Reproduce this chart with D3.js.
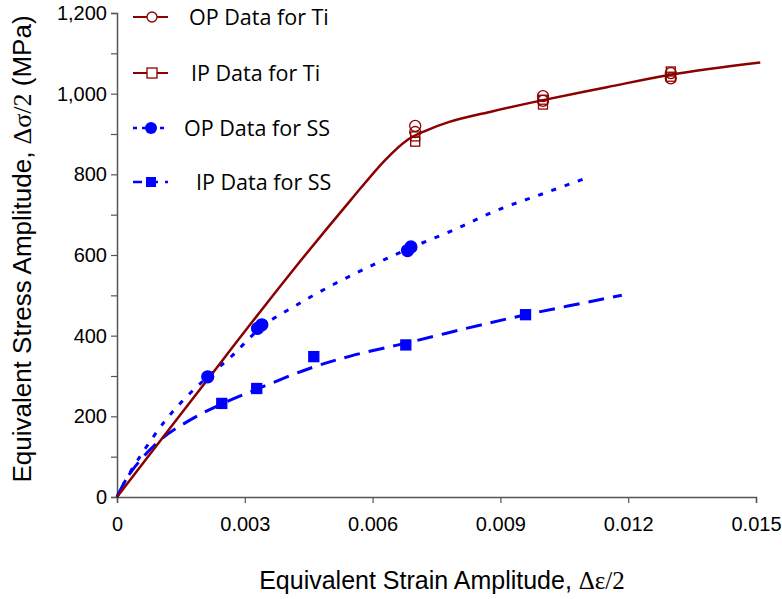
<!DOCTYPE html>
<html>
<head>
<meta charset="utf-8">
<script src="https://cdn.jsdelivr.net/npm/d3@7"></script>
<style>
body { margin: 0; background: #fff; }
</style>
</head>
<body>
<div id="chart"></div>
<script>
// curves
var tiCurve = [[0,0],[0.002,274],[0.004,545],[0.0055,738],[0.0063,836],[0.0068,884],[0.0072,906],[0.0078,930],
  [0.0088,956],[0.010,984],[0.0115,1016],[0.013,1047],[0.0151,1077]];
var ssOpCurve = [[0,0],[0.0003,60],[0.0011,185],[0.0016,245],[0.00213,298],[0.0027,350],[0.0034,422],[0.0042,475],
  [0.0051,528],[0.006,575],[0.0069,618],[0.0079,662],[0.0089,710],[0.010,752],[0.0111,794]];
var ssIpCurve = [[0,0],[0.0003,58],[0.001,140],[0.0017,190],[0.0024,228],[0.0033,268],[0.0045,318],[0.0055,350],
  [0.0068,382],[0.0082,418],[0.0096,452],[0.01185,500]];

// measured points
var tiOp = [[0.007,920],[0.007,905],[0.010,994],[0.010,982],[0.013,1051],[0.013,1038]];
var tiIp = [[0.007,894],[0.007,881],[0.010,985],[0.010,973],[0.013,1055],[0.013,1042]];
var ssOp = [[0.00213,298],[0.0033,418],[0.0034,427],[0.00682,611],[0.0069,620]];
var ssIp = [[0.00246,232],[0.00328,269],[0.00462,348],[0.00678,377],[0.00959,452]];

var xTicks = [0, 0.003, 0.006, 0.009, 0.012, 0.015];
var yTicks = [0, 200, 400, 600, 800, 1000, 1200];
var yMinor = [100, 300, 500, 700, 900, 1100];

var legendNames = ["OP Data for Ti", "IP Data for Ti", "OP Data for SS", "IP Data for SS"];

var width = 782, height = 599;
var tiColor = "#8b0000", ssColor = "#0000ff";
var axisFont = "Liberation Sans, Arial, sans-serif";

var svg = d3.select("#chart").append("svg")
  .attr("width", width).attr("height", height);

var x = d3.scaleLinear().domain([0, 0.015]).range([117, 756]);
var y = d3.scaleLinear().domain([0, 1200]).range([497, 13]);

// axes
svg.append("g")
  .attr("transform", "translate(0,497)")
  .call(d3.axisBottom(x).tickValues(xTicks).tickSize(6).tickPadding(14)
    .tickFormat(function(d) { return d === 0 ? "0" : d3.format(".3f")(d); }));
svg.append("g")
  .attr("transform", "translate(117,0)")
  .call(d3.axisLeft(y).tickValues(yTicks).tickSize(6).tickPadding(4).tickFormat(d3.format(",")));
svg.append("g")
  .attr("transform", "translate(117,0)")
  .call(d3.axisLeft(y).tickValues(yMinor).tickSize(6).tickFormat(""))
  .select(".domain").remove();

svg.selectAll(".domain").attr("stroke", "#555").attr("stroke-width", 1.5);
svg.selectAll(".tick line").attr("stroke", "#555").attr("stroke-width", 1.2);
svg.selectAll(".tick text")
  .attr("font-family", axisFont)
  .attr("font-size", 20)
  .attr("fill", "#000");

// titles
svg.append("text")
  .attr("transform", "translate(31,249) rotate(-90)")
  .attr("text-anchor", "middle")
  .attr("font-family", axisFont)
  .attr("font-size", 26)
  .html('Equivalent Stress Amplitude, <tspan font-family="Liberation Serif, Times New Roman, serif">Δσ/2</tspan> (MPa)');
svg.append("text")
  .attr("x", 442).attr("y", 589)
  .attr("text-anchor", "middle")
  .attr("font-family", axisFont)
  .attr("font-size", 25)
  .html('Equivalent Strain Amplitude, <tspan font-family="Liberation Serif, Times New Roman, serif">Δε/2</tspan>');

var line = d3.line()
  .x(function(d) { return x(d[0]); })
  .y(function(d) { return y(d[1]); })
  .curve(d3.curveCatmullRom.alpha(0.5));

svg.append("path").datum(ssIpCurve).attr("d", line)
  .attr("fill", "none").attr("stroke", ssColor).attr("stroke-width", 3).attr("stroke-dasharray", "16,9");
svg.append("path").datum(ssOpCurve).attr("d", line)
  .attr("fill", "none").attr("stroke", ssColor).attr("stroke-width", 3).attr("stroke-dasharray", "5,9");
svg.append("path").datum(tiCurve).attr("d", line)
  .attr("fill", "none").attr("stroke", tiColor).attr("stroke-width", 2.5);

function drawCircles(data, fill, stroke, r) {
  svg.append("g").selectAll("circle").data(data).enter().append("circle")
    .attr("cx", function(d) { return x(d[0]); })
    .attr("cy", function(d) { return y(d[1]); })
    .attr("r", r)
    .attr("fill", fill).attr("stroke", stroke).attr("stroke-width", 1.3);
}
function drawSquares(data, fill, stroke, s) {
  svg.append("g").selectAll("rect").data(data).enter().append("rect")
    .attr("x", function(d) { return x(d[0]) - s / 2; })
    .attr("y", function(d) { return y(d[1]) - s / 2; })
    .attr("width", s).attr("height", s)
    .attr("fill", fill).attr("stroke", stroke).attr("stroke-width", 1.3);
}
drawSquares(tiIp, "none", tiColor, 9);
drawCircles(tiOp, "none", tiColor, 5.5);
drawCircles(ssOp, ssColor, ssColor, 6);
drawSquares(ssIp, ssColor, ssColor, 10);

// legend
var legendY = [17, 73, 128, 182];
var legendTextX = [189, 191, 184, 196];
var legendDash = [null, null, "4,5", "9,7"];
var legend = svg.append("g");
legendNames.forEach(function(name, i) {
  var c = i < 2 ? tiColor : ssColor;
  legend.append("line")
    .attr("x1", 133).attr("x2", 168).attr("y1", legendY[i]).attr("y2", legendY[i])
    .attr("stroke", c).attr("stroke-width", i < 2 ? 2 : 2.5)
    .attr("stroke-dasharray", legendDash[i]);
  if (i === 0) legend.append("circle").attr("cx", 152).attr("cy", legendY[i]).attr("r", 5)
    .attr("fill", "#fff").attr("stroke", c).attr("stroke-width", 1.3);
  if (i === 1) legend.append("rect").attr("x", 147).attr("y", legendY[i] - 5).attr("width", 10).attr("height", 10)
    .attr("fill", "#fff").attr("stroke", c).attr("stroke-width", 1.3);
  if (i === 2) legend.append("circle").attr("cx", 151).attr("cy", legendY[i]).attr("r", 6).attr("fill", c);
  if (i === 3) legend.append("rect").attr("x", 146).attr("y", legendY[i] - 5).attr("width", 10).attr("height", 10).attr("fill", c);
  legend.append("text")
    .attr("x", legendTextX[i]).attr("y", legendY[i] + 8)
    .attr("font-family", "Open Sans, sans-serif")
    .attr("font-size", 21.5)
    .attr("fill", "#000")
    .text(name);
});
</script>
</body>
</html>
